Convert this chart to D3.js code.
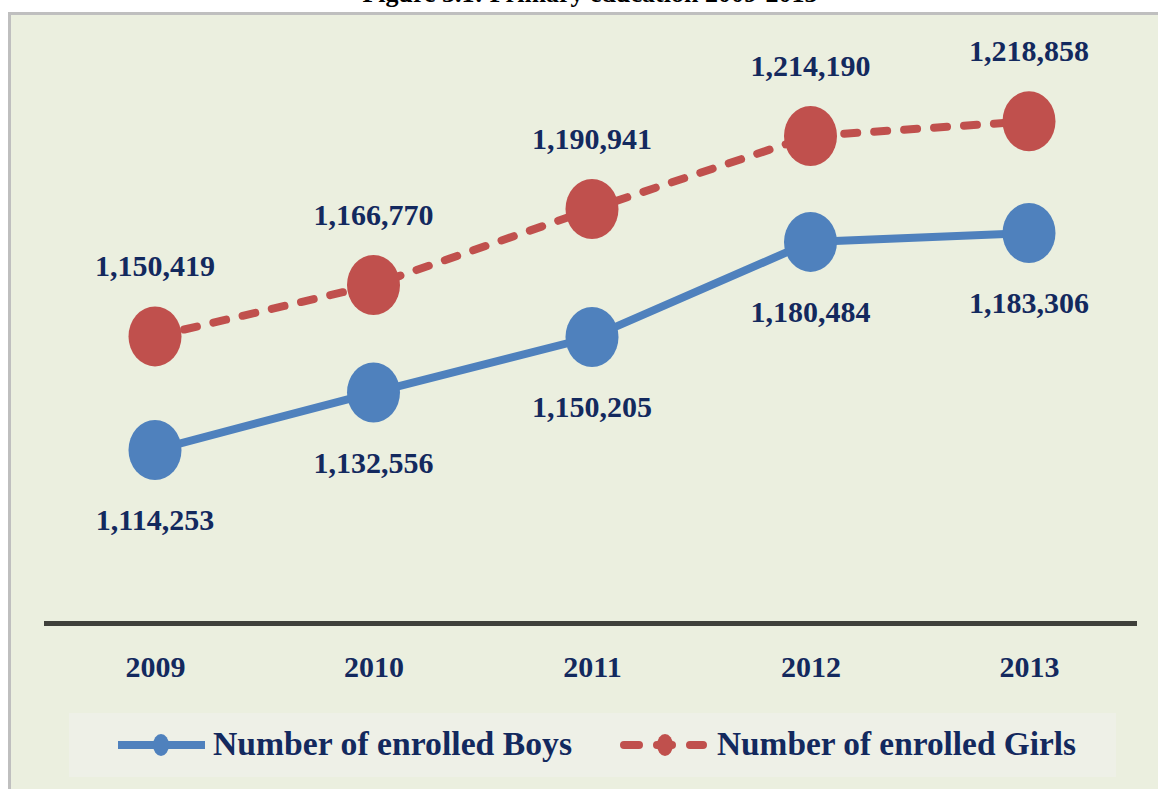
<!DOCTYPE html>
<html>
<head>
<meta charset="utf-8">
<script src="https://cdn.jsdelivr.net/npm/d3@7"></script>
<style>
  body { margin: 0; background: #ffffff; }
  svg text { font-family: "Liberation Serif", "Times New Roman", serif; font-weight: bold; }
</style>
</head>
<body>
<div id="chart"></div>
<script>
// chart data
var years = ["2009", "2010", "2011", "2012", "2013"];
var boys = [1114253, 1132556, 1150205, 1180484, 1183306];
var girls = [1150419, 1166770, 1190941, 1214190, 1218858];
var seriesNames = ["Number of enrolled Boys", "Number of enrolled Girls"];
var titleText = "Figure 3.1: Primary education 2009-2013";

var svgWidth = 1158;
var svgHeight = 789;
var navy = "#13295e";
var blue = "#4f81bd";
var red = "#c0504d";

var svg = d3.select("#chart")
  .append("svg")
  .attr("width", svgWidth)
  .attr("height", svgHeight);

// title, mostly cut off at the top of the picture (as in the source)
svg.append("text")
  .attr("x", 590)
  .attr("y", 2)
  .attr("text-anchor", "middle")
  .attr("font-size", "26px")
  .attr("fill", "#000")
  .text(titleText);

// frame
svg.append("rect")
  .attr("x", 8).attr("y", 12)
  .attr("width", svgWidth + 20).attr("height", svgHeight)
  .attr("fill", "#bfbfbf");
svg.append("rect")
  .attr("x", 11).attr("y", 15)
  .attr("width", svgWidth).attr("height", svgHeight)
  .attr("fill", "#ebefdf");

// scales
var xScale = d3.scalePoint()
  .domain(years)
  .range([155, 1029]);

var yScale = d3.scaleLinear()
  .domain([1058900, 1253000])
  .range([624, 14]);

// base line + year labels
svg.append("line")
  .attr("x1", 44).attr("x2", 1137)
  .attr("y1", 623.5).attr("y2", 623.5)
  .attr("stroke", "#3f403b")
  .attr("stroke-width", 5);

var bottomAxis = d3.axisBottom(xScale).tickSize(0).tickPadding(32);
var axisG = svg.append("g")
  .attr("transform", "translate(0, 624)")
  .call(bottomAxis);
axisG.select(".domain").remove();
axisG.selectAll("text")
  .attr("font-family", "Liberation Serif, serif")
  .attr("font-weight", "bold")
  .attr("font-size", "30px")
  .attr("fill", navy);

var lineGen = d3.line()
  .x(function(d, i) { return xScale(years[i]); })
  .y(function(d) { return yScale(d); });

// girls (dashed)
svg.append("path")
  .datum(girls)
  .attr("d", lineGen)
  .attr("fill", "none")
  .attr("stroke", red)
  .attr("stroke-width", 8)
  .attr("stroke-linecap", "round")
  .attr("stroke-dasharray", "13,17");

// boys (solid)
svg.append("path")
  .datum(boys)
  .attr("d", lineGen)
  .attr("fill", "none")
  .attr("stroke", blue)
  .attr("stroke-width", 8);

function drawMarkers(values, color) {
  svg.append("g").selectAll("ellipse")
    .data(values)
    .enter()
    .append("ellipse")
    .attr("cx", function(d, i) { return xScale(years[i]); })
    .attr("cy", function(d) { return yScale(d); })
    .attr("rx", 26.5)
    .attr("ry", 30)
    .attr("fill", color);
}
drawMarkers(girls, red);
drawMarkers(boys, blue);

// value labels
function drawLabels(values, dy) {
  svg.append("g").selectAll("text")
    .data(values)
    .enter()
    .append("text")
    .attr("x", function(d, i) { return xScale(years[i]); })
    .attr("y", function(d) { return yScale(d) + dy; })
    .attr("text-anchor", "middle")
    .attr("font-size", "30px")
    .attr("fill", navy)
    .text(function(d) { return d3.format(",")(d); });
}
drawLabels(girls, -60);
drawLabels(boys, 80);

// legend
svg.append("rect")
  .attr("x", 69).attr("y", 713)
  .attr("width", 1047).attr("height", 64)
  .attr("fill", "#eef0e7");

var legendY = 745;
svg.append("line")
  .attr("x1", 118).attr("x2", 205)
  .attr("y1", legendY).attr("y2", legendY)
  .attr("stroke", blue).attr("stroke-width", 8);
svg.append("ellipse")
  .attr("cx", 161).attr("cy", legendY)
  .attr("rx", 8).attr("ry", 11)
  .attr("fill", blue);
svg.append("text")
  .attr("x", 213).attr("y", 755)
  .attr("font-size", "34px")
  .attr("fill", navy)
  .attr("textLength", 359)
  .attr("lengthAdjust", "spacingAndGlyphs")
  .text(seriesNames[0]);

svg.append("line")
  .attr("x1", 624).attr("x2", 703)
  .attr("y1", legendY).attr("y2", legendY)
  .attr("stroke", red).attr("stroke-width", 8)
  .attr("stroke-linecap", "round")
  .attr("stroke-dasharray", "15,18");
svg.append("ellipse")
  .attr("cx", 665).attr("cy", legendY)
  .attr("rx", 8).attr("ry", 11)
  .attr("fill", red);
svg.append("text")
  .attr("x", 717).attr("y", 755)
  .attr("font-size", "34px")
  .attr("fill", navy)
  .attr("textLength", 359)
  .attr("lengthAdjust", "spacingAndGlyphs")
  .text(seriesNames[1]);
</script>
</body>
</html>
